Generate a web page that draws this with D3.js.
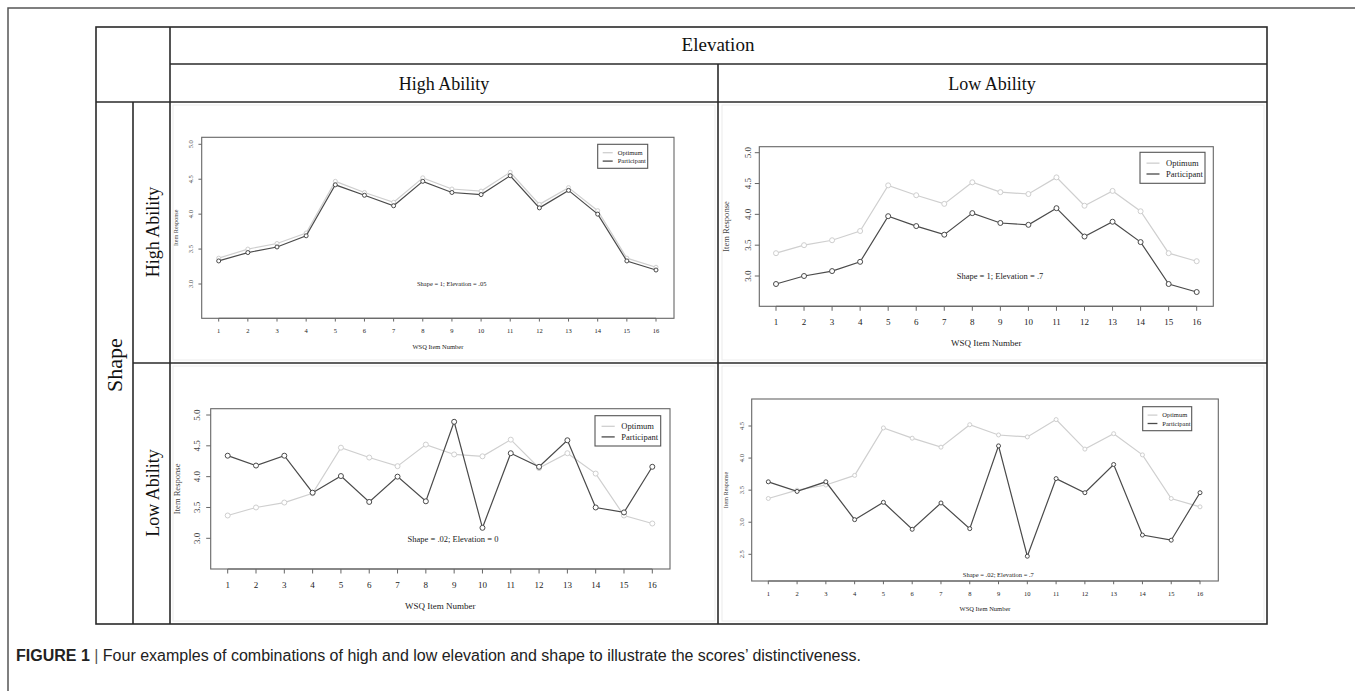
<!DOCTYPE html>
<html>
<head>
<meta charset="utf-8">
<script src="https://cdn.jsdelivr.net/npm/d3@7"></script>
<style>
  body { margin: 0; background: #fff; }
  svg { display: block; }
</style>
</head>
<body>
<div id="chart"></div>
<script>
// WSQ items and response profiles
const items = d3.range(1, 17);
const optimum = [3.37, 3.50, 3.58, 3.73, 4.47, 4.31, 4.17, 4.52, 4.36, 4.33, 4.60, 4.14, 4.38, 4.05, 3.37, 3.24];
const partHighHigh = [3.33, 3.45, 3.53, 3.69, 4.42, 4.27, 4.12, 4.47, 4.31, 4.28, 4.55, 4.09, 4.34, 4.00, 3.33, 3.20];
const partHighLow = [2.87, 3.00, 3.08, 3.23, 3.97, 3.81, 3.67, 4.02, 3.86, 3.83, 4.10, 3.64, 3.88, 3.55, 2.87, 2.74];
const partLowHigh = [4.34, 4.18, 4.34, 3.74, 4.01, 3.59, 4.00, 3.60, 4.89, 3.17, 4.38, 4.16, 4.59, 3.50, 3.42, 4.16];
const partLowLow = [3.63, 3.48, 3.63, 3.04, 3.31, 2.89, 3.30, 2.90, 4.19, 2.47, 3.68, 3.46, 3.90, 2.80, 2.72, 3.46];

const ticksA = [3.0, 3.5, 4.0, 4.5, 5.0];
const ticksB = [2.5, 3.0, 3.5, 4.0, 4.5];
const notes = ['Shape = 1; Elevation = .05', 'Shape = 1; Elevation = .7', 'Shape = .02; Elevation = 0', 'Shape = .02; Elevation = .7'];
const seriesNames = ['Optimum', 'Participant'];

const W = 1355, H = 691;
const serif = '"Liberation Serif", "Times New Roman", serif';

const svg = d3.select('#chart').append('svg')
  .attr('width', W)
  .attr('height', H);

// outer figure frame
svg.append('path')
  .attr('d', 'M8,691 V8 H1355')
  .attr('fill', 'none')
  .attr('stroke', '#555')
  .attr('stroke-width', 1.5);

// table grid
const tbl = { l: 96, r: 1267, t: 27, b: 624 };
const grid = svg.append('g').attr('stroke', '#2a2a2a').attr('stroke-width', 1.6);
grid.append('rect')
  .attr('x', tbl.l).attr('y', tbl.t)
  .attr('width', tbl.r - tbl.l).attr('height', tbl.b - tbl.t)
  .attr('fill', 'none');
[[170, tbl.t, 170, tbl.b], [718, 64, 718, tbl.b], [133, 102, 133, tbl.b],
 [170, 64, tbl.r, 64], [tbl.l, 102, tbl.r, 102], [133, 363, tbl.r, 363]]
  .forEach(s => grid.append('line').attr('x1', s[0]).attr('y1', s[1]).attr('x2', s[2]).attr('y2', s[3]));

// faint image borders in cells
[[173, 105, 542, 255], [722, 105, 542, 255], [173, 366, 542, 255], [722, 366, 542, 255]].forEach(c => {
  svg.append('rect')
    .attr('x', c[0]).attr('y', c[1]).attr('width', c[2]).attr('height', c[3])
    .attr('fill', 'none').attr('stroke', '#ececec').attr('stroke-width', 1);
});

// headers
const hdr = svg.append('g').attr('font-family', serif).attr('fill', '#111').attr('text-anchor', 'middle');
hdr.append('text').attr('x', 718).attr('y', 51).attr('font-size', 19).text('Elevation');
hdr.append('text').attr('x', 444).attr('y', 90).attr('font-size', 18).text('High Ability');
hdr.append('text').attr('x', 992).attr('y', 90).attr('font-size', 18).text('Low Ability');
hdr.append('text').attr('transform', 'translate(122,365) rotate(-90)').attr('font-size', 22).text('Shape');
hdr.append('text').attr('transform', 'translate(159,232) rotate(-90)').attr('font-size', 18).text('High Ability');
hdr.append('text').attr('transform', 'translate(159,493) rotate(-90)').attr('font-size', 18).text('Low Ability');

// panel layouts
const panels = [
  { data: partHighHigh, ticks: ticksA, box: [201.7, 137.3, 674, 318.3], xr: [218.7, 656], yv: [3.0, 5.0], yp: [284, 144.3],
    fs: 6.5, tly: 330.7, ytx: 190.7, yttx: 176, xty: 346.7, note: [451.7, 284], nfs: 6.5, leg: [597.7, 144.3, 647.7, 168.3], r: 2 },
  { data: partHighLow, ticks: ticksA, box: [759.3, 146.7, 1213.3, 306.3], xr: [776, 1196.7], yv: [3.0, 5.0], yp: [276, 152.7],
    fs: 9, tly: 322.3, ytx: 748.3, yttx: 726, xty: 343, note: [1000, 276.3], nfs: 8.5, leg: [1140, 152.3, 1205, 183.3], r: 2.5 },
  { data: partLowHigh, ticks: ticksA, box: [210.7, 408.7, 670, 569], xr: [227.7, 652.3], yv: [3.0, 5.0], yp: [538.3, 415],
    fs: 9, tly: 585, ytx: 196.7, yttx: 176.7, xty: 605.7, note: [453, 539], nfs: 8.5, leg: [595, 415.7, 660.7, 446], r: 2.5 },
  { data: partLowLow, ticks: ticksB, box: [751.7, 399, 1218.3, 581], xr: [768.3, 1200], yv: [2.5, 4.5], yp: [554.3, 426],
    fs: 6.5, tly: 594, ytx: 741.7, yttx: 726, xty: 609, note: [998.3, 575], nfs: 6.5, leg: [1142.7, 406.7, 1191.7, 430.7], r: 2 }
];

const optColor = '#cfcfcf';
const partColor = '#4a4a4a';

panels.forEach((p, i) => {
  const g = svg.append('g').attr('font-family', serif).attr('fill', '#222');
  const x = d3.scaleLinear().domain([1, 16]).range(p.xr);
  const y = d3.scaleLinear().domain(p.yv).range(p.yp);
  const [bx0, by0, bx1, by1] = p.box;
  const tk = p.fs * 0.5;

  g.append('rect')
    .attr('x', bx0).attr('y', by0).attr('width', bx1 - bx0).attr('height', by1 - by0)
    .attr('fill', 'none').attr('stroke', '#666').attr('stroke-width', 1.1);

  // x axis
  const xa = g.append('g');
  xa.append('line').attr('x1', x(1)).attr('x2', x(16)).attr('y1', by1).attr('y2', by1)
    .attr('stroke', '#666').attr('stroke-width', 1.1);
  xa.selectAll('line.t').data(items).enter().append('line')
    .attr('class', 't')
    .attr('x1', d => x(d)).attr('x2', d => x(d))
    .attr('y1', by1).attr('y2', by1 + tk)
    .attr('stroke', '#666');
  xa.selectAll('text').data(items).enter().append('text')
    .attr('x', d => x(d)).attr('y', p.tly).attr('dy', '0.35em')
    .attr('text-anchor', 'middle').attr('font-size', p.fs)
    .text(d => d);

  // y axis, labels turned like base R
  const ya = g.append('g');
  ya.selectAll('line.t').data(p.ticks).enter().append('line')
    .attr('class', 't')
    .attr('x1', bx0 - tk).attr('x2', bx0)
    .attr('y1', d => y(d)).attr('y2', d => y(d))
    .attr('stroke', '#666');
  ya.selectAll('text').data(p.ticks).enter().append('text')
    .attr('transform', d => `translate(${p.ytx},${y(d)}) rotate(-90)`)
    .attr('text-anchor', 'middle').attr('dy', '0.35em')
    .attr('font-size', p.fs).attr('fill', '#444')
    .text(d => d3.format('.1f')(d));

  g.append('text')
    .attr('transform', `translate(${p.yttx},${(by0 + by1) / 2}) rotate(-90)`)
    .attr('text-anchor', 'middle').attr('dy', '0.35em')
    .attr('font-size', p.fs * 0.95).attr('fill', '#444')
    .text('Item Response');
  g.append('text')
    .attr('x', (bx0 + bx1) / 2).attr('y', p.xty).attr('dy', '0.35em')
    .attr('text-anchor', 'middle').attr('font-size', p.fs)
    .text('WSQ Item Number');

  // series
  const line = d3.line().x((d, j) => x(items[j])).y(d => y(d));
  [[optimum, optColor], [p.data, partColor]].forEach(([vals, col]) => {
    g.append('path')
      .datum(vals)
      .attr('d', line)
      .attr('fill', 'none')
      .attr('stroke', col)
      .attr('stroke-width', 1.2);
    g.selectAll(null).data(vals).enter().append('circle')
      .attr('cx', (d, j) => x(items[j]))
      .attr('cy', d => y(d))
      .attr('r', p.r)
      .attr('fill', '#fff')
      .attr('stroke', col)
      .attr('stroke-width', 1);
  });

  g.append('text')
    .attr('x', p.note[0]).attr('y', p.note[1]).attr('dy', '0.35em')
    .attr('text-anchor', 'middle').attr('font-size', p.nfs)
    .text(notes[i]);

  // legend
  const [lx0, ly0, lx1, ly1] = p.leg;
  const lw = lx1 - lx0, lh = ly1 - ly0;
  const lg = g.append('g');
  lg.append('rect')
    .attr('x', lx0).attr('y', ly0).attr('width', lw).attr('height', lh)
    .attr('fill', '#fff').attr('stroke', '#555').attr('stroke-width', 1.1);
  [optColor, partColor].forEach((col, k) => {
    const ry = ly0 + lh * (k === 0 ? 0.35 : 0.7);
    lg.append('line')
      .attr('x1', lx0 + lw * 0.1).attr('x2', lx0 + lw * 0.3)
      .attr('y1', ry).attr('y2', ry)
      .attr('stroke', col).attr('stroke-width', 1.3);
    lg.append('text')
      .attr('x', lx0 + lw * 0.4).attr('y', ry).attr('dy', '0.35em')
      .attr('font-size', p.nfs).text(seriesNames[k]);
  });
});

// caption
const cap = svg.append('text')
  .attr('x', 16).attr('y', 661)
  .attr('font-family', '"Liberation Sans", Arial, sans-serif')
  .attr('font-size', 16).attr('fill', '#222');
cap.append('tspan').attr('font-weight', 'bold').text('FIGURE 1');
cap.append('tspan').attr('fill', '#555').text(' | ');
cap.append('tspan').text('Four examples of combinations of high and low elevation and shape to illustrate the scores\u2019 distinctiveness.');
</script>
</body>
</html>
